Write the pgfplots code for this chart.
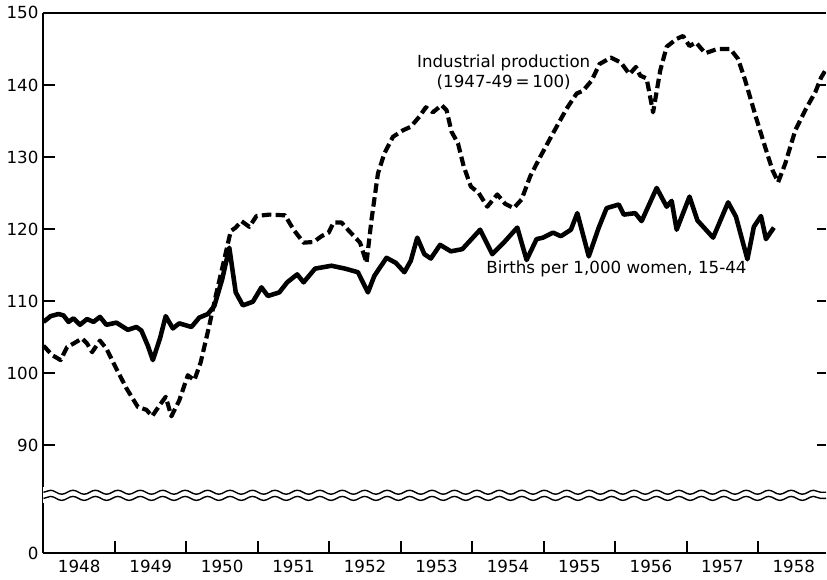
\documentclass[border=0pt]{standalone}
\usepackage{fontspec}
\setmainfont{DejaVu Sans}
\usepackage{pgfplots}
\pgfplotsset{compat=1.18}
\usetikzlibrary{decorations.pathmorphing}
\begin{document}
\begin{tikzpicture}
\begin{axis}[
  scale only axis, width=394pt, height=272pt,
  xmin=1948, xmax=1958.95, ymin=75, ymax=150,
  axis y line*=left,
  xtick pos=bottom,
  xtick={1949,1950,1951,1952,1953,1954,1955,1956,1957,1958},
  xticklabels={},
  extra x ticks={1948.5,1949.5,1950.5,1951.5,1952.5,1953.5,1954.5,1955.5,1956.5,1957.5,1958.5},
  extra x tick labels={1948,1949,1950,1951,1952,1953,1954,1955,1956,1957,1958},
  extra x tick style={major tick length=0pt},
  ytick={75,90,100,110,120,130,140,150},
  yticklabels={0,90,100,110,120,130,140,150},
  tick align=inside, major tick length=6pt,
  axis line style={line width=1pt},
  tick style={line width=1pt, black},
  /pgf/number format/assume math mode=true,
  ticklabel style={font=\fontsize{8.4}{10}\selectfont},
  yticklabel style={xshift=1pt},
]
\addplot[black, line width=2.3pt, line join=round] coordinates {
(1948.00,107.1) (1948.10,107.9) (1948.21,108.2) (1948.28,108.0) (1948.35,107.1)
(1948.42,107.6) (1948.51,106.7) (1948.61,107.5) (1948.70,107.1) (1948.79,107.8)
(1948.88,106.7) (1949.02,107.0) (1949.18,106.0) (1949.30,106.4) (1949.37,105.9)
(1949.46,103.8) (1949.53,101.8) (1949.63,104.8) (1949.71,107.9) (1949.81,106.2)
(1949.90,106.9) (1950.07,106.4) (1950.18,107.7) (1950.30,108.2) (1950.39,109.3)
(1950.50,113.0) (1950.60,117.4) (1950.69,111.2) (1950.79,109.4) (1950.93,109.9)
(1951.05,111.9) (1951.14,110.7) (1951.30,111.2) (1951.41,112.6) (1951.55,113.7)
(1951.64,112.6) (1951.80,114.5) (1952.03,114.9) (1952.22,114.5) (1952.40,114.0)
(1952.54,111.2) (1952.63,113.5) (1952.80,116.0) (1952.93,115.3) (1953.05,114.0)
(1953.14,115.6) (1953.23,118.8) (1953.33,116.5) (1953.42,115.9) (1953.55,117.8)
(1953.70,116.9) (1953.86,117.2) (1954.11,119.9) (1954.28,116.5) (1954.44,118.1)
(1954.63,120.2) (1954.76,115.7) (1954.90,118.6) (1954.99,118.8) (1955.13,119.5)
(1955.24,119.0) (1955.38,119.9) (1955.47,122.2) (1955.63,116.2) (1955.77,120.2)
(1955.88,122.9) (1956.05,123.4) (1956.12,122.0) (1956.28,122.2) (1956.37,121.1)
(1956.58,125.7) (1956.72,123.1) (1956.79,123.9) (1956.86,119.9) (1957.04,124.5)
(1957.15,121.2) (1957.37,118.8) (1957.58,123.7) (1957.69,121.7) (1957.85,115.8)
(1957.94,120.3) (1958.04,121.8) (1958.11,118.6) (1958.22,120.2)
};
\addplot[black, line width=2.1pt, dash pattern=on 4.8pt off 2.2pt, line join=round] coordinates {
(1948.00,103.8) (1948.12,102.5) (1948.24,101.8) (1948.33,103.6) (1948.42,104.1)
(1948.54,104.8) (1948.61,104.1) (1948.68,102.9) (1948.79,104.5) (1948.88,103.4)
(1949.02,100.6) (1949.16,97.9) (1949.32,95.3) (1949.44,94.9) (1949.52,94.0)
(1949.63,95.6) (1949.71,96.7) (1949.79,94.0) (1949.90,96.2) (1950.02,99.7)
(1950.11,99.0) (1950.20,101.5) (1950.32,106.6) (1950.41,110.7) (1950.53,115.8)
(1950.62,119.7) (1950.69,120.2) (1950.77,121.1) (1950.88,120.3) (1950.98,121.8)
(1951.16,122.0) (1951.38,121.9) (1951.50,119.9) (1951.64,118.1) (1951.78,118.2)
(1951.89,119.0) (1951.99,119.5) (1952.06,120.9) (1952.17,120.9) (1952.26,119.9)
(1952.43,118.1) (1952.52,115.3) (1952.59,121.3) (1952.68,127.7) (1952.77,130.5)
(1952.89,132.8) (1953.03,133.7) (1953.14,134.2) (1953.26,135.6) (1953.35,136.9)
(1953.45,136.2) (1953.57,137.2) (1953.64,136.5) (1953.71,133.5) (1953.80,131.9)
(1953.88,128.7) (1953.98,125.9) (1954.09,125.0) (1954.21,123.1) (1954.35,124.8)
(1954.46,123.5) (1954.58,122.9) (1954.69,124.1) (1954.81,127.3) (1954.95,130.0)
(1955.13,133.3) (1955.32,136.7) (1955.46,138.8) (1955.55,139.2) (1955.67,140.6)
(1955.78,142.9) (1955.94,143.8) (1956.08,143.1) (1956.20,141.5) (1956.29,142.5)
(1956.35,141.3) (1956.44,140.9) (1956.53,136.2) (1956.63,142.0) (1956.72,145.3)
(1956.86,146.4) (1956.95,146.8) (1957.04,145.4) (1957.13,145.9) (1957.26,144.4)
(1957.43,145.0) (1957.61,145.0) (1957.72,143.6) (1957.82,140.6) (1957.97,135.5)
(1958.11,131.0) (1958.20,128.2) (1958.28,126.5) (1958.38,129.1) (1958.52,133.7)
(1958.67,136.7) (1958.80,139.0) (1958.88,141.0) (1958.94,142.0)
};
\node[align=center, font=\fontsize{8.4}{10}\selectfont] at (axis cs:1954.44,141.8) {Industrial production\\(1947-49\,=\,100)};
\node[anchor=west, font=\fontsize{8.4}{10}\selectfont] at (axis cs:1954.10,114.4) {Births per 1,000 women, 15-44};
\coordinate (BL1) at (rel axis cs:0,0.1127);
\coordinate (BR1) at (rel axis cs:1,0.1127);
\coordinate (BL2) at (rel axis cs:0,0.1013);
\coordinate (BR2) at (rel axis cs:1,0.1013);
\coordinate (WA) at (rel axis cs:0,0.092);
\coordinate (WB) at (rel axis cs:1,0.122);
\coordinate (R90) at (rel axis cs:1,0.2);
\coordinate (R100) at (rel axis cs:1,0.3333);
\coordinate (R110) at (rel axis cs:1,0.4667);
\coordinate (R120) at (rel axis cs:1,0.6);
\coordinate (R130) at (rel axis cs:1,0.7333);
\coordinate (R140) at (rel axis cs:1,0.8667);
\end{axis}
\fill[white] (WA) rectangle (WB);
\draw[line width=0.7pt, decorate, decoration={snake, amplitude=1pt, segment length=11.3pt}] (BL1) -- (BR1);
\draw[line width=0.7pt, decorate, decoration={snake, amplitude=1pt, segment length=11.3pt}] (BL2) -- (BR2);
\foreach \c in {R90,R100,R110,R120,R130,R140} {\draw[line width=1pt] (\c) -- ++(-4.5pt,0);}
\end{tikzpicture}
\end{document}
